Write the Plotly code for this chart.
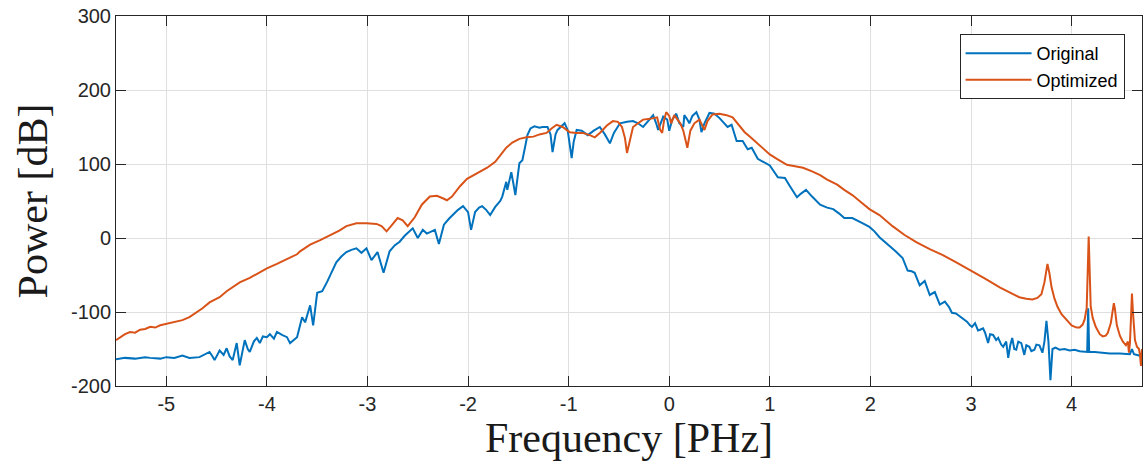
import plotly.graph_objects as go

# Spectral power of the original pulse (frequency in PHz, power in dB)
orig_freq = [
    -5.50, -5.41, -5.31, -5.21, -5.16, -5.06, -5.00, -4.92, -4.84, -4.77,
    -4.67, -4.62, -4.57, -4.54, -4.52, -4.47, -4.43, -4.40, -4.37, -4.34,
    -4.30, -4.27, -4.24, -4.22, -4.19, -4.17, -4.13, -4.10, -4.07, -4.04,
    -4.00, -3.97, -3.93, -3.90, -3.85, -3.80, -3.77, -3.73, -3.70, -3.65,
    -3.62, -3.57, -3.54, -3.50, -3.45, -3.40, -3.35, -3.31, -3.26, -3.21,
    -3.16, -3.11, -3.06, -3.01, -2.96, -2.90, -2.84, -2.78, -2.73, -2.68,
    -2.63, -2.60, -2.55, -2.50, -2.45, -2.41, -2.37, -2.33, -2.29, -2.24,
    -2.19, -2.15, -2.10, -2.05, -2.00, -1.97, -1.93, -1.89, -1.86, -1.82,
    -1.78, -1.73, -1.68, -1.66, -1.64, -1.62, -1.61, -1.57, -1.55, -1.53,
    -1.49, -1.46, -1.43, -1.41, -1.38, -1.34, -1.29, -1.26, -1.21, -1.18,
    -1.16, -1.13, -1.11, -1.04, -1.01, -0.99, -0.97, -0.95, -0.92, -0.87,
    -0.81, -0.75, -0.69, -0.64, -0.59, -0.55, -0.49, -0.42, -0.36, -0.31,
    -0.26, -0.21, -0.16, -0.13, -0.11, -0.06, -0.02, 0.00, 0.03, 0.07,
    0.10, 0.14, 0.15, 0.18, 0.20, 0.23, 0.27, 0.30, 0.32, 0.35,
    0.40, 0.45, 0.50, 0.58, 0.62, 0.67, 0.73, 0.78, 0.82, 0.88,
    0.94, 1.00, 1.08, 1.15, 1.20, 1.27, 1.31, 1.36, 1.42, 1.50,
    1.57, 1.63, 1.69, 1.74, 1.82, 1.87, 1.92, 1.99, 2.04, 2.09,
    2.14, 2.19, 2.25, 2.32, 2.37, 2.41, 2.44, 2.49, 2.54, 2.59,
    2.64, 2.69, 2.74, 2.78, 2.81, 2.85, 2.89, 2.93, 2.96, 2.99,
    3.01, 3.04, 3.07, 3.09, 3.12, 3.14, 3.17, 3.19, 3.22, 3.25,
    3.27, 3.30, 3.32, 3.35, 3.37, 3.39, 3.41, 3.43, 3.45, 3.47,
    3.50, 3.53, 3.55, 3.58, 3.60, 3.63, 3.65, 3.68, 3.71, 3.73,
    3.75, 3.77, 3.79, 3.81, 3.84, 3.88, 3.93, 3.98, 4.03, 4.08,
    4.14, 4.155, 4.165, 4.175, 4.23, 4.28, 4.38, 4.48, 4.58, 4.60,
    4.62, 4.68, 4.70,
]
orig_power = [
    -164, -162, -163, -161, -162, -163, -161, -162, -159, -162,
    -161, -158, -154, -160, -165, -152, -158, -149, -160, -165,
    -142, -172, -150, -138, -150, -154, -140, -135, -142, -133,
    -134, -130, -136, -127, -131, -134, -142, -137, -134, -107,
    -114, -91, -118, -74, -72, -59, -45, -33, -25, -19,
    -16, -14, -20, -14, -30, -19, -47, -18, -10, -5,
    3, 7, 13, 0, 11, 6, 8, 11, -8, 18,
    26, 32, 38, 43, 35, 11, 35, 41, 43, 38,
    31, 42, 50, 56, 65, 76, 65, 89, 74, 58,
    101, 105, 125, 139, 148, 151, 149, 150, 150, 140,
    116, 140, 146, 155, 146, 125, 108, 130, 146, 145,
    139, 145, 150, 140, 128, 142, 155, 157, 158, 155,
    150, 158, 166, 155, 146, 164, 160, 145, 160, 168,
    155, 150, 166, 160, 155, 165, 170, 160, 143, 155,
    169, 168, 162, 150, 153, 131, 131, 120, 122, 107,
    102, 98, 82, 81, 70, 55, 60, 65, 56, 45,
    41, 39, 33, 27, 27, 24, 20, 15, 9, 1,
    -5, -10, -18, -27, -44, -45, -47, -64, -58, -77,
    -73, -90, -86, -93, -101, -102, -106, -111, -113, -118,
    -120, -115, -125, -124, -122, -128, -142, -130, -131, -138,
    -135, -144, -147, -140, -162, -145, -135, -150, -151, -140,
    -142, -158, -145, -147, -153, -151, -144, -145, -155, -140,
    -112, -140, -192, -150, -148, -151, -150, -152, -151, -153,
    -154, -154, -95, -154, -154, -155, -156, -156, -157, -150,
    -157, -159, -162,
]

# Spectral power of the optimized pulse
opt_freq = [
    -5.50, -5.46, -5.41, -5.36, -5.31, -5.26, -5.21, -5.16, -5.11, -5.06,
    -5.00, -4.92, -4.84, -4.77, -4.70, -4.64, -4.57, -4.47, -4.40, -4.34,
    -4.27, -4.17, -4.09, -4.00, -3.90, -3.80, -3.70, -3.67, -3.57, -3.47,
    -3.35, -3.28, -3.21, -3.11, -3.01, -2.91, -2.86, -2.81, -2.76, -2.70,
    -2.65, -2.60, -2.53, -2.46, -2.38, -2.31, -2.24, -2.21, -2.16, -2.08,
    -2.01, -1.91, -1.81, -1.73, -1.68, -1.62, -1.56, -1.49, -1.42, -1.35,
    -1.29, -1.22, -1.17, -1.12, -1.06, -0.99, -0.92, -0.86, -0.79, -0.74,
    -0.69, -0.62, -0.56, -0.51, -0.47, -0.44, -0.42, -0.39, -0.36, -0.31,
    -0.26, -0.19, -0.12, -0.09, -0.07, -0.05, -0.03, 0.00, 0.02, 0.05,
    0.08, 0.11, 0.14, 0.18, 0.21, 0.25, 0.30, 0.33, 0.35, 0.38,
    0.43, 0.50, 0.57, 0.63, 0.70, 0.75, 0.80, 0.87, 0.93, 1.00,
    1.07, 1.17, 1.25, 1.33, 1.42, 1.50, 1.57, 1.67, 1.74, 1.82,
    1.91, 1.99, 2.09, 2.22, 2.34, 2.46, 2.59, 2.72, 2.84, 2.99,
    3.14, 3.29, 3.39, 3.48, 3.55, 3.61, 3.66, 3.70, 3.73, 3.75,
    3.76, 3.78, 3.80, 3.83, 3.86, 3.90, 3.95, 4.00, 4.05, 4.08,
    4.11, 4.13, 4.15, 4.16, 4.17, 4.18, 4.19, 4.21, 4.24, 4.28,
    4.31, 4.34, 4.36, 4.39, 4.41, 4.42, 4.43, 4.45, 4.48, 4.51,
    4.54, 4.56, 4.57, 4.58, 4.59, 4.60, 4.61, 4.63, 4.65, 4.67,
    4.68, 4.69, 4.70,
]
opt_power = [
    -138, -134, -130, -127, -128, -124, -123, -120, -121, -118,
    -116, -114, -111, -107, -101, -95, -87, -80, -72, -66,
    -60, -54, -48, -41, -35, -29, -22, -18, -9, -3,
    5, 10, 16, 20, 20, 19, 16, 9, 17, 27,
    24, 16, 28, 45, 56, 57, 53, 51, 56, 70,
    80, 88, 95, 103, 112, 122, 129, 134, 136, 137,
    140, 142, 148, 153, 150, 143, 142, 142, 139, 136,
    142, 152, 158, 157, 150, 135, 115, 135, 150, 155,
    160, 161, 163, 146, 142, 160, 170, 165, 155, 166,
    160, 155, 145, 122, 145, 155, 160, 150, 146, 158,
    167, 168, 166, 163, 152, 143, 137, 129, 121, 113,
    107, 99, 97, 95, 90, 85, 79, 72, 65, 58,
    48, 39, 31, 16, 4, -6, -15, -23, -32, -43,
    -55, -67, -74, -80, -82, -83, -81, -76, -60, -42,
    -35, -48, -66, -82, -93, -103, -111, -118, -121, -121,
    -117, -110, -95, -45, 2, -45, -92, -108, -120, -130,
    -133, -132, -128, -115, -98, -88, -95, -118, -132, -140,
    -145, -140, -155, -142, -110, -75, -100, -138, -147, -150,
    -158, -173, -150,
]

fig = go.Figure()
fig.add_trace(go.Scatter(
    x=orig_freq, y=orig_power, mode="lines", name="Original",
    line=dict(color="#0072BD", width=2),
))
fig.add_trace(go.Scatter(
    x=opt_freq, y=opt_power, mode="lines", name="Optimized",
    line=dict(color="#D95319", width=2),
))

axis_common = dict(
    showline=True, linecolor="#262626", linewidth=1, mirror="ticks",
    ticks="inside", ticklen=10, tickcolor="#262626",
    showgrid=True, gridcolor="#dfdfdf", gridwidth=1, zeroline=False,
    tickfont=dict(family="Liberation Sans, Arial, sans-serif", size=20, color="#262626"),
)

fig.update_layout(
    width=1147, height=472,
    margin=dict(l=116, r=5, t=16, b=86),
    paper_bgcolor="white", plot_bgcolor="white",
    xaxis=dict(
        range=[-5.5, 4.7], tickvals=[-5, -4, -3, -2, -1, 0, 1, 2, 3, 4],
        ticktext=["-5", "-4", "-3", "-2", "-1", "0", "1", "2", "3", "4"],
        title=dict(text="Frequency [PHz]", standoff=8,
                   font=dict(family="Liberation Serif, Times New Roman, serif", size=42, color="#1a1a1a")),
        **axis_common,
    ),
    yaxis=dict(
        range=[-200, 300], tickvals=[-200, -100, 0, 100, 200, 300],
        ticktext=["-200", "-100", "0", "100", "200", "300"],
        title=dict(text="Power [dB]", standoff=10,
                   font=dict(family="Liberation Serif, Times New Roman, serif", size=42, color="#1a1a1a")),
        **axis_common,
    ),
    legend=dict(
        x=0.983, y=0.951, xanchor="right", yanchor="top",
        bgcolor="white", bordercolor="#262626", borderwidth=1,
        font=dict(family="Liberation Sans, Arial, sans-serif", size=18, color="#000000"),
        tracegroupgap=0, itemwidth=66,
    ),
    showlegend=True,
)

fig.write_html("out.html")
